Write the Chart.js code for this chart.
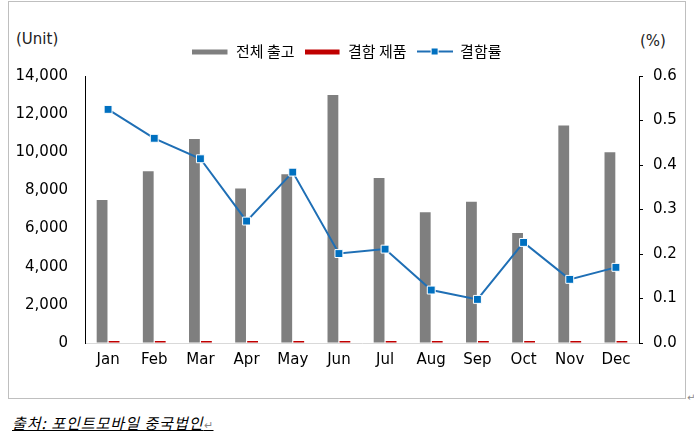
<!DOCTYPE html>
<html>
<head>
<meta charset="utf-8">
<script src="https://cdn.jsdelivr.net/npm/chart.js@4.4.0/dist/chart.umd.min.js"></script>
<style>
  body { margin: 0; background: #fff; width: 694px; height: 439px; position: relative; overflow: hidden; }
  #box { position: absolute; left: 8px; top: 1px; width: 678px; height: 398px; box-sizing: border-box; border: 1px solid #bfbfbf; }
  #box canvas { display: block; }
  .note { position: absolute; font-family: 'DejaVu Sans', 'Noto Sans CJK KR', sans-serif; font-size: 15px; color: #222; }
  #src { position: absolute; left: 12px; top: 412px; font-family: 'Noto Sans CJK KR', sans-serif; font-size: 15px; font-style: italic; text-decoration: underline; letter-spacing: 1px; color: #000; }
  #ret { position: absolute; left: 687px; top: 392px; font-size: 10px; color: #888; font-family: 'DejaVu Sans', sans-serif; }
</style>
</head>
<body>
<div class="note" style="left:16px; top:30px;">(Unit)</div>
<div class="note" style="left:640px; top:32px;">(%)</div>
<div id="box"><canvas id="grafico" width="676" height="396"></canvas></div>
<div id="ret">↵</div>
<div id="src">출처: 포인트모바일 중국법인<span style="font-size:11px;color:#888;text-decoration:none;font-style:normal">↵</span></div>
<script>
const meses = ['Jan', 'Feb', 'Mar', 'Apr', 'May', 'Jun', 'Jul', 'Aug', 'Sep', 'Oct', 'Nov', 'Dec'];
const nomes = ['전체 출고', '결함 제품', '결함률'];
const totalOut = [7500, 9000, 10700, 8100, 8850, 13000, 8650, 6850, 7400, 5770, 11400, 10000];
const defeitos = [39, 41, 44, 22, 34, 26, 18, 8, 7, 13, 16, 17];
const taxa = [0.525, 0.460, 0.414, 0.274, 0.384, 0.201, 0.211, 0.119, 0.098, 0.226, 0.143, 0.170];
const ticksEsq = [0, 2000, 4000, 6000, 8000, 10000, 12000, 14000];
const ticksDir = [0, 0.1, 0.2, 0.3, 0.4, 0.5, 0.6];

const cinza = '#7f7f7f';
const vermelho = '#c00000';
const azul = '#1f6fb5';
const azulPonto = '#0070c0';

// little pictures for the legend keys
function chave(tipo) {
  const c = document.createElement('canvas');
  c.width = 36; c.height = 10;
  const g = c.getContext('2d');
  if (tipo === 'linha') {
    g.strokeStyle = azul; g.lineWidth = 2;
    g.beginPath(); g.moveTo(0, 5); g.lineTo(36, 5); g.stroke();
    g.fillStyle = azulPonto; g.fillRect(14, 1, 8, 8);
    g.strokeStyle = '#fff'; g.lineWidth = 1; g.strokeRect(14.5, 1.5, 7, 7);
  } else {
    g.fillStyle = tipo; g.fillRect(0, 3, 35, 5);
  }
  return c;
}
const chaves = [chave(cinza), chave(vermelho), chave('linha')];

const fonteNum = { family: "'DejaVu Sans', 'Noto Sans CJK KR', sans-serif", size: 15 };

const ajusteLegenda = {
  id: 'ajusteLegenda',
  beforeLayout(chart) {
    const leg = chart.legend;
    if (leg && !leg._ajustado) {
      const fit = leg.fit;
      leg.fit = function () { fit.call(this); this.height += 7; };
      leg._ajustado = true;
    }
  }
};

const ctx = document.getElementById('grafico').getContext('2d');
new Chart(ctx, {
  data: {
    labels: meses,
    datasets: [
      { type: 'line', label: nomes[2], data: taxa, yAxisID: 'y1', order: 0,
        borderColor: azul, borderWidth: 2, pointStyle: 'rect', pointRadius: 5.6,
        pointBackgroundColor: azulPonto, pointBorderColor: '#ffffff', pointBorderWidth: 1,
        tension: 0 },
      { type: 'bar', label: nomes[0], data: totalOut, yAxisID: 'y', order: 1,
        backgroundColor: cinza, categoryPercentage: 0.52, barPercentage: 0.9 },
      { type: 'bar', label: nomes[1], data: defeitos, yAxisID: 'y', order: 1,
        backgroundColor: vermelho, minBarLength: 2, categoryPercentage: 0.52, barPercentage: 0.9 }
    ]
  },
  options: {
    responsive: false,
    animation: false,
    layout: { padding: { top: 32, left: 0, right: 0, bottom: 0 } },
    plugins: {
      tooltip: { enabled: false },
      legend: {
        position: 'top',
        labels: {
          usePointStyle: true,
          pointStyleWidth: 36,
          padding: 10,
          color: '#000',
          font: { family: "'Noto Sans CJK KR', sans-serif", size: 15 },
          sort: (a, b) => nomes.indexOf(a.text) - nomes.indexOf(b.text),
          generateLabels(chart) {
            const itens = Chart.defaults.plugins.legend.labels.generateLabels(chart);
            itens.forEach(it => { it.pointStyle = chaves[nomes.indexOf(it.text)]; });
            return itens;
          }
        }
      }
    },
    scales: {
      x: {
        grid: { display: true, drawOnChartArea: false, drawTicks: false },
        border: { display: true, color: '#d9d9d9', width: 1 },
        ticks: { color: '#000', font: fonteNum, padding: 8, maxRotation: 0 },
        afterFit(s) { s.height = 55; }
      },
      y: {
        position: 'left',
        min: 0, max: 14000,
        afterBuildTicks(s) { s.ticks = ticksEsq.map(v => ({ value: v })); },
        grid: { display: true, drawOnChartArea: false, drawTicks: false },
        border: { display: true, color: '#000', width: 1 },
        ticks: { color: '#000', font: fonteNum, padding: 17,
          callback: v => v.toLocaleString('en-US') },
        afterFit(s) { s.width = 76; }
      },
      y1: {
        position: 'right',
        min: 0, max: 0.6,
        afterBuildTicks(s) { s.ticks = ticksDir.map(v => ({ value: v })); },
        grid: { display: true, drawOnChartArea: false, drawTicks: true, tickLength: 4, color: '#000' },
        border: { display: true, color: '#000', width: 1 },
        ticks: { color: '#000', font: fonteNum, padding: 10,
          callback: v => v.toFixed(1) },
        afterFit(s) { s.width = 46; }
      }
    }
  },
  plugins: [ajusteLegenda]
});
</script>
</body>
</html>
